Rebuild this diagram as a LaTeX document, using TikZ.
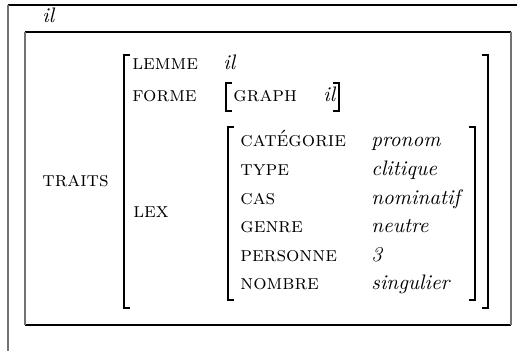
\documentclass[tikz,border=0pt]{standalone}
\begin{document}
\begin{tikzpicture}
[x=0.476pt,y=-0.476pt,
  attrdecorate/.style={anchor=mid west,inner sep=0pt,font=\scshape},
  valdecorate/.style={anchor=mid west,inner sep=0pt,font=\itshape},
  brackdecorate/.style={line width=0.8pt},
  hframe/.style={line width=0.5pt,black},
  vframe/.style={line width=0.6pt,black!55}]
\useasboundingbox (0,0) rectangle (517,351);
%% frames
\coordinate (f_tl) at (8,5);
\coordinate (f_tr) at (517,5);
\coordinate (f_bl) at (8,351);
\draw[hframe] (f_tl) -- (f_tr);
\draw[vframe] (f_tl) -- (f_bl);
\node (mot) at (42,18) [valdecorate] {il};
\coordinate (b_tl) at (25,32);
\coordinate (b_tr) at (511,32);
\coordinate (b_bl) at (25,325);
\coordinate (b_br) at (511,325);
\draw[hframe] (b_tl) -- (b_tr) (b_bl) -- (b_br);
\draw[vframe] (b_tl) -- (b_bl) (b_tr) -- (b_br);
%% brackets
\foreach \xl/\xr/\yt/\yb in {
  124/488/55/308, 228/475/127/300, 226/339/83/111} {
  \draw[brackdecorate] (\xl+6,\yt) -- (\xl,\yt) -- (\xl,\yb) -- (\xl+6,\yb);
  \draw[brackdecorate] (\xr-6,\yt) -- (\xr,\yt) -- (\xr,\yb) -- (\xr-6,\yb);
}
%% attributes and values
\node (traits) at (42,182) [attrdecorate] {traits};
\node (lemme) at (132,65) [attrdecorate] {lemme};
\node (lemme_v) at (223,65) [valdecorate] {il};
\node (forme) at (132,97) [attrdecorate] {forme};
\node (graph) at (233,97) [attrdecorate] {graph};
\node (graph_v) at (323,97) [valdecorate] {il};
\node (lex) at (133,213) [attrdecorate] {lex};
\foreach \nodename/\attr/\val/\y in {
  cat/catégorie/pronom/142, type/type/clitique/171, cas/cas/nominatif/200,
  genre/genre/neutre/228, pers/personne/3/257, nombre/nombre/singulier/285} {
  \node (\nodename) at (240,\y) [attrdecorate] {\attr};
  \node (\nodename_v) at (371,\y) [valdecorate] {\val};
}
\end{tikzpicture}
\end{document}
